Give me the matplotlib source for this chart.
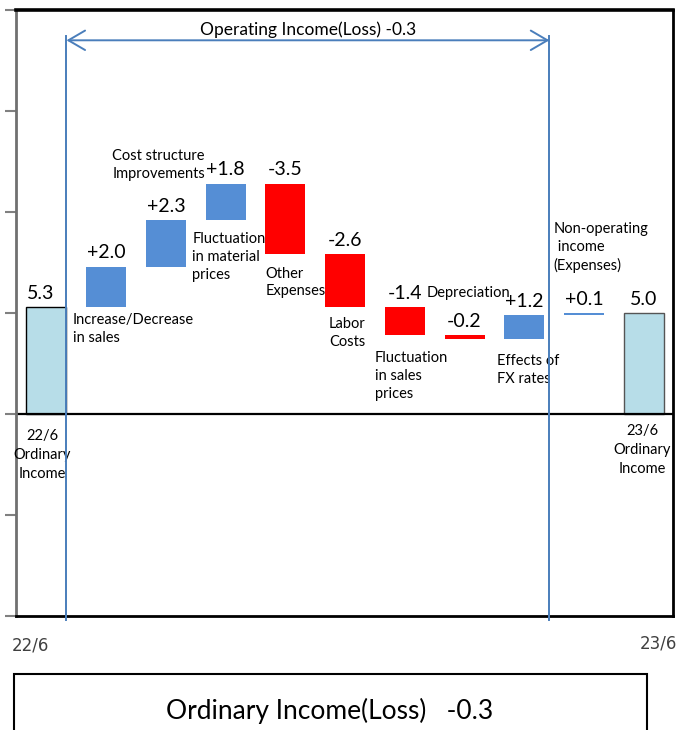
import matplotlib
matplotlib.use("Agg")
import matplotlib.pyplot as plt
from matplotlib.patches import Rectangle

plt.rcParams['font.family'] = ['Lato', 'DejaVu Sans']

# Waterfall data (billions)
start_value = 5.3
end_value = 5.0
step_names = ["Increase/Decrease\nin sales", "Cost structure\nImprovements",
              "Fluctuation\nin material\nprices", "Other\nExpenses", "Labor\nCosts",
              "Fluctuation\nin sales\nprices", "Depreciation", "Effects of\nFX rates",
              "Non-operating\n income\n(Expenses)"]
step_values = [2.0, 2.3, 1.8, -3.5, -2.6, -1.4, -0.2, 1.2, 0.1]
start_label = "22/6\nOrdinary\nIncome"
end_label = "23/6\nOrdinary\nIncome"
operating_total = -0.3
ordinary_total = -0.3
period_labels = ["22/6", "23/6"]

# label placement (data coords, left/top anchors)
name_x = [0.44, 1.10, 2.44, 3.67, 4.73, 5.50, 6.37, 7.54, 8.49]
name_y = [5.0, 13.1, 9.0, 7.3, 4.8, 3.1, 6.35, 2.95, 9.5]

BLUE = "#558ed5"
RED = "#ff0000"
TOTAL = "#b7dde8"
LINE = "#4a7ebb"

fig = plt.figure(figsize=(6.92, 7.30), dpi=100)
ax = fig.add_axes([16 / 692, 1 - 616 / 730, (673 - 16) / 692, (616 - 10) / 730])

# totals
n = len(step_values)
ax.bar(0, start_value, width=0.67, color=TOTAL, edgecolor="black", linewidth=1)
ax.bar(n + 1, end_value, width=0.67, color=TOTAL, edgecolor="#555555", linewidth=1)

running = start_value
tops = []
for i, v in enumerate(step_values):
    base = running if v >= 0 else running + v
    ax.bar(i + 1, abs(v), bottom=base, width=0.67,
           color=BLUE if v >= 0 else RED, linewidth=0)
    running += v
    tops.append(base + abs(v))

# value labels
def val_label(x, y, txt):
    ax.annotate(txt, (x, y), xytext=(0, 6), textcoords="offset points",
                ha="center", va="baseline", fontsize=14)

val_label(-0.09, start_value, f"{start_value:.1f}")
for i, v in enumerate(step_values):
    val_label(i + 1, tops[i], f"{v:+.1f}")
val_label(n + 1, end_value, f"{end_value:.1f}")

# step names
for i, name in enumerate(step_names):
    ax.text(name_x[i], name_y[i], name, ha="left", va="top", fontsize=10.5,
            linespacing=1.35)
ax.text(-0.075, -0.75, start_label, ha="center", va="top", fontsize=10.5, linespacing=1.45)
ax.text(9.98, -0.5, end_label, ha="center", va="top", fontsize=10.5, linespacing=1.45)

# operating income bracket
lx, rx = 0.335, 8.42
ytop = 18.5
for x in (lx, rx):
    ax.plot([x, x], [18.7, -10.2], color=LINE, lw=1.4, clip_on=False, zorder=3)
ax.annotate("", xy=(lx, ytop), xytext=(rx, ytop),
            arrowprops=dict(arrowstyle="<->,head_length=0.6,head_width=0.35",
                            color=LINE, lw=1.4, mutation_scale=20,
                            shrinkA=0, shrinkB=0))
ax.text((lx + rx) / 2, 18.75, f"Operating Income(Loss) {operating_total:.1f}",
        ha="center", va="baseline", fontsize=12.5)

ax.axhline(0, color="black", lw=1.6)
ax.set_xlim(-0.51, n + 1.49)
ax.set_ylim(-10, 20)
ax.set_yticks(range(-10, 21, 5))
ax.set_yticklabels([])
ax.set_xticks([])
ax.tick_params(axis="y", direction="out", length=8, width=1.5, color="#808080")
for side in ("top", "right", "bottom"):
    ax.spines[side].set_color("black")
ax.spines["top"].set_linewidth(2.6)
ax.spines["right"].set_linewidth(2)
ax.spines["bottom"].set_linewidth(2)
ax.spines["left"].set_color("#707070")
ax.spines["left"].set_linewidth(2)

fig.text(12 / 692, 1 - 650 / 730, period_labels[0], ha="left", va="baseline",
         fontsize=12, color="#404040", family=["DejaVu Sans"])
fig.text(677 / 692, 1 - 648 / 730, period_labels[1], ha="right", va="baseline",
         fontsize=12, color="#404040", family=["DejaVu Sans"])

fig.patches.append(Rectangle((14 / 692, -0.01), (647 - 14) / 692, (730 - 674) / 730 + 0.01,
                             transform=fig.transFigure, fill=False, edgecolor="black", lw=1.5))
fig.text(330 / 692, 1 - 719 / 730, f"Ordinary Income(Loss)   {ordinary_total:.1f}",
         ha="center", va="baseline", fontsize=19)

fig.savefig("out.png", dpi=100)
